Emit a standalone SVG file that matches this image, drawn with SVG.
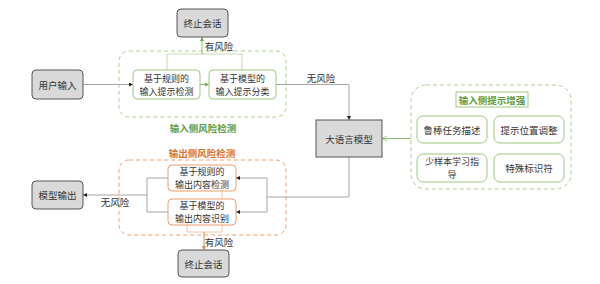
<svg xmlns="http://www.w3.org/2000/svg" width="600" height="284" viewBox="0 0 600 284">
<defs>
<style>
text{font-family:"Noto Sans CJK SC","Liberation Sans",sans-serif;font-size:9.5px;fill:#333;text-anchor:middle;dominant-baseline:central}
.sm{font-size:9px}
.gray{fill:#d9d9d9;stroke:#555;stroke-width:1}
.gbox{fill:#fff;stroke:#9cc97f;stroke-width:1}
.obox{fill:#fff;stroke:#eb9d6a;stroke-width:1}
.gcont{fill:none;stroke:#a9d18e;stroke-width:1;stroke-dasharray:4 3}
.ocont{fill:none;stroke:#f0a070;stroke-width:1;stroke-dasharray:4 3}
.ln{fill:none;stroke:#a6a6a6;stroke-width:1}
.lg{fill:none;stroke:#c5dcb4;stroke-width:1}
.lgd{fill:none;stroke:#8ec06c;stroke-width:1}
.lo{fill:none;stroke:#f3c9aa;stroke-width:1}
.lod{fill:none;stroke:#e0874a;stroke-width:1}
.gt{fill:#5e9c3c;font-weight:bold}
.ot{fill:#d9702e;font-weight:bold}
</style>
<marker id="ab" viewBox="0 0 6 6" refX="6" refY="3" markerWidth="4" markerHeight="4" orient="auto"><path d="M0,0L6,3L0,6z" fill="#222"/></marker>
<marker id="ag" viewBox="0 0 6 6" refX="6" refY="3" markerWidth="4" markerHeight="4" orient="auto"><path d="M0,0L6,3L0,6z" fill="#6aa84f"/></marker>
<marker id="agopen" viewBox="0 0 8 8" refX="7" refY="4" markerWidth="7" markerHeight="7" orient="auto"><path d="M1,1L7,4L1,7" fill="none" stroke="#9cc97f" stroke-width="1"/></marker>
<marker id="ao" viewBox="0 0 6 6" refX="6" refY="3" markerWidth="4" markerHeight="4" orient="auto"><path d="M0,0L6,3L0,6z" fill="#e0874a"/></marker>
</defs>
<rect width="600" height="284" fill="#fff"/>

<g id="containers">
<rect id="input-risk" class="gcont" x="119" y="51" width="167" height="66" rx="10"/>
<text class="gt" x="203" y="128">输入侧风险检测</text>
<rect id="output-risk" class="ocont" x="119" y="160" width="167" height="75" rx="10"/>
<text class="ot" x="202" y="153">输出侧风险检测</text>
<rect id="prompt-enh" class="gcont" x="411" y="85" width="160" height="104" rx="15"/>
</g>

<g id="connectors">
<path class="ln" d="M83,84.5H133" marker-end="url(#ab)"/>
<path class="lgd" d="M200,84.5H209" marker-end="url(#ag)"/>
<path class="lg" d="M167,70V54H242V70"/>
<path class="lgd" d="M202,54V37" marker-end="url(#ag)"/>
<path class="ln" d="M276,84.5H349V120" marker-end="url(#ab)"/>
<text x="321" y="78">无风险</text>
<text x="219" y="46">有风险</text>
<path class="lgd" d="M411,138.5H382" marker-end="url(#agopen)"/>
<path class="ln" d="M349,157V197H267"/>
<path class="ln" d="M267,178V212"/>
<path class="ln" d="M267,178H236" marker-end="url(#ab)"/>
<path class="ln" d="M267,212H236" marker-end="url(#ab)"/>
<path class="ln" d="M168,178H147V212H168"/>
<path class="ln" d="M147,195H83" marker-end="url(#ab)"/>
<text x="115" y="202">无风险</text>
<path class="lo" d="M222,191V232H187V225"/>
<path class="lod" d="M204,232V250" marker-end="url(#ao)"/>
<text x="219" y="242">有风险</text>
</g>

<g id="n-user"><rect class="gray" x="32" y="70" width="51" height="29" rx="4"/><text x="57.5" y="84.5">用户输入</text></g>
<g id="n-stop1"><rect class="gray" x="177" y="9" width="51" height="28" rx="4"/><text x="202.5" y="23">终止会话</text></g>
<g id="n-rule-in"><rect class="gbox" x="133" y="70" width="67" height="29" rx="4"/><text class="sm" x="166.5" y="78.5">基于规则的</text><text class="sm" x="166.5" y="91">输入提示检测</text></g>
<g id="n-model-in"><rect class="gbox" x="209" y="70" width="67" height="29" rx="4"/><text class="sm" x="242.5" y="78.5">基于模型的</text><text class="sm" x="242.5" y="91">输入提示分类</text></g>
<g id="n-llm"><rect class="gray" x="316" y="120" width="66" height="37"/><text x="349" y="138.5">大语言模型</text></g>
<g id="n-enh-title"><rect fill="#fff" stroke="#9cc97f" x="456" y="92" width="72" height="15"/><text class="gt" x="492" y="99.5">输入侧提示增强</text></g>
<g id="n-robust"><rect class="gbox" x="417" y="116" width="70" height="27" rx="6"/><text x="452" y="129.5">鲁棒任务描述</text></g>
<g id="n-pos"><rect class="gbox" x="494" y="116" width="70" height="27" rx="6"/><text x="529" y="129.5">提示位置调整</text></g>
<g id="n-fewshot"><rect class="gbox" x="417" y="154" width="70" height="28" rx="6"/><text class="sm" x="452" y="161.5">少样本学习指</text><text class="sm" x="452" y="174.5">导</text></g>
<g id="n-special"><rect class="gbox" x="494" y="154" width="70" height="28" rx="6"/><text x="529" y="168">特殊标识符</text></g>
<g id="n-rule-out"><rect class="obox" x="168" y="165" width="68" height="26" rx="4"/><text class="sm" x="202" y="171.5">基于规则的</text><text class="sm" x="202" y="184.5">输出内容检测</text></g>
<g id="n-model-out"><rect class="obox" x="168" y="199" width="68" height="26" rx="4"/><text class="sm" x="202" y="205.5">基于模型的</text><text class="sm" x="202" y="218.5">输出内容识别</text></g>
<g id="n-output"><rect class="gray" x="32" y="181" width="51" height="28" rx="4"/><text x="57.5" y="195">模型输出</text></g>
<g id="n-stop2"><rect class="gray" x="178" y="250" width="51" height="27" rx="4"/><text x="203.5" y="263.5">终止会话</text></g>
</svg>
